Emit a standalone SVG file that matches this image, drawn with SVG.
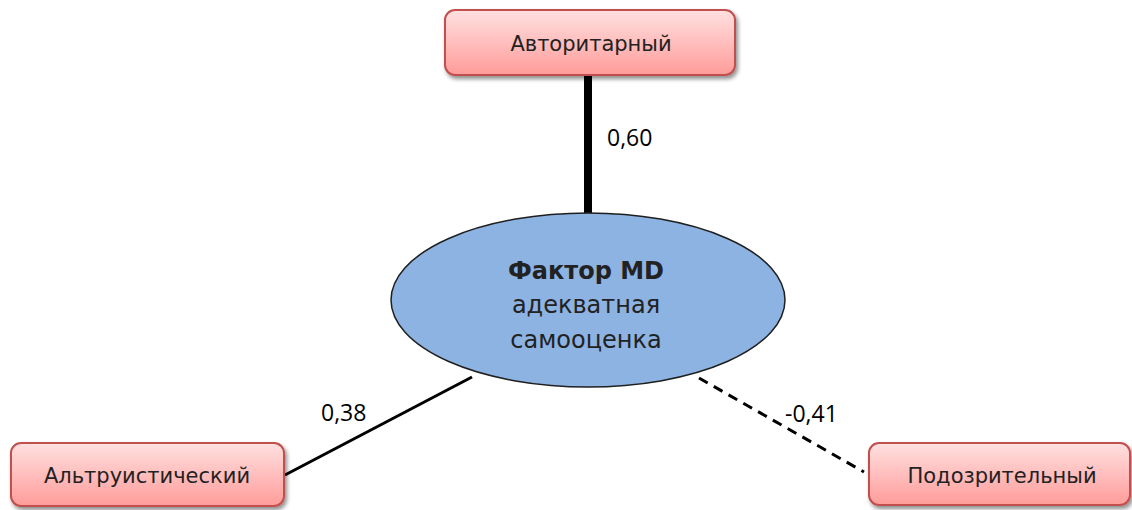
<svg xmlns="http://www.w3.org/2000/svg" width="1132" height="510" viewBox="0 0 1132 510">
<defs>
<linearGradient id="pink" x1="0" y1="0" x2="0" y2="1">
<stop offset="0" stop-color="#ffe0e0"/>
<stop offset="1" stop-color="#ff9c9a"/>
</linearGradient>
<filter id="sh" x="-10%" y="-20%" width="120%" height="150%">
<feGaussianBlur in="SourceAlpha" stdDeviation="2"/>
<feOffset dx="2" dy="3"/>
<feComponentTransfer><feFuncA type="linear" slope="0.45"/></feComponentTransfer>
<feMerge><feMergeNode/><feMergeNode in="SourceGraphic"/></feMerge>
</filter>
</defs>
<style>
.box{fill:url(#pink);stroke:#c0504d;stroke-width:2;filter:url(#sh)}
.bt{font-family:"DejaVu Sans",sans-serif;font-size:21px;fill:#222;text-anchor:middle}
.lbl{font-family:"Open Sans","Liberation Sans",sans-serif;font-size:23px;fill:#000}
.conn{stroke:#000;fill:none}
.et{font-family:"DejaVu Sans",sans-serif;font-size:24px;fill:#222;text-anchor:middle}
</style>
<rect width="1132" height="510" fill="#fff"/>
<g id="connectors">
<line class="conn" x1="588" y1="75" x2="588" y2="214" stroke-width="8"/>
<line class="conn" x1="285" y1="475" x2="472" y2="377" stroke-width="3"/>
<line class="conn" x1="699" y1="378" x2="864" y2="472" stroke-width="3" stroke-dasharray="10,7"/>
<text class="lbl" x="607" y="146">0,60</text>
<text class="lbl" x="321" y="421">0,38</text>
<text class="lbl" x="785" y="422">-0,41</text>
</g>
<g id="center">
<ellipse cx="588" cy="300" rx="197" ry="87" fill="#8db3e2" stroke="#1f1f1f" stroke-width="1.5"/>
<text class="et" x="586" y="279" font-weight="bold" fill="#000">Фактор MD</text>
<text class="et" x="586" y="313">адекватная</text>
<text class="et" x="586" y="348">самооценка</text>
</g>
<g id="avtoritarny">
<rect class="box" x="445" y="10" width="290" height="65" rx="10"/>
<text class="bt" x="591" y="51">Авторитарный</text>
</g>
<g id="altruistichesky">
<rect class="box" x="11" y="443" width="273" height="63" rx="10"/>
<text class="bt" x="147" y="483">Альтруистический</text>
</g>
<g id="podozritelny">
<rect class="box" x="869" y="443" width="261" height="62" rx="10"/>
<text class="bt" x="1002" y="483">Подозрительный</text>
</g>
</svg>
